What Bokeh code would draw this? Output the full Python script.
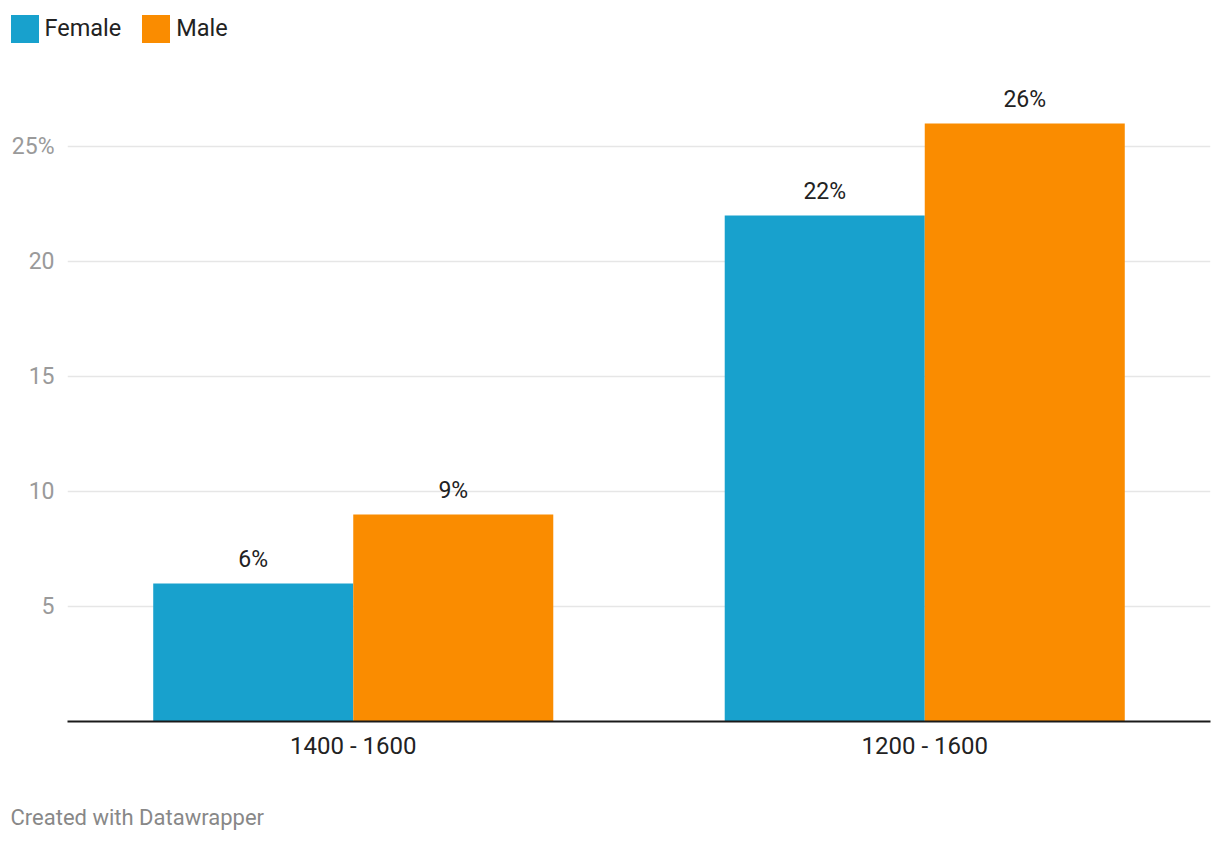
from bokeh.plotting import figure
from bokeh.layouts import column
from bokeh.models import (FactorRange, Range1d, FixedTicker, Legend, LegendItem,
                          Label, ColumnDataSource)
from bokeh.transform import dodge
from bokeh.core.properties import value
from bokeh.embed import file_html
from bokeh.resources import INLINE

categories = ["1400 - 1600", "1200 - 1600"]
female = [6, 22]
male = [9, 26]
series_names = ["Female", "Male"]
series_colors = ["#18a1cd", "#fa8c00"]
y_ticks = [5, 10, 15, 20, 25]
y_tick_labels = {25: "25%"}
footer_text = "Created with Datawrapper"

FONT = "Roboto"
W = 1220
TOP_H, MAIN_H, FOOT_H = 60, 730, 54
LEFT, RIGHT, BOTTOM = 67, 10, 69
PX_PER_UNIT = 23.0

src = ColumnDataSource(dict(
    cat=categories,
    female=female,
    male=male,
    female_lbl=[f"{v}%" for v in female],
    male_lbl=[f"{v}%" for v in male],
))


def bare_figure(h, x_range, y_range):
    f = figure(width=W, height=h, output_backend="svg", toolbar_location=None,
               x_range=x_range, y_range=y_range,
               x_axis_location=None, y_axis_location=None,
               min_border_left=0, min_border_right=0,
               min_border_top=0, min_border_bottom=0, frame_align=False)
    f.outline_line_color = None
    f.grid.visible = False
    f.background_fill_color = "white"
    f.border_fill_color = "white"
    return f


# ---- legend strip (hidden renderers; only their legend swatches show) ----
top = bare_figure(TOP_H, FactorRange(*categories), Range1d(0, 30))
dummy = []
for col, c in (("female", series_colors[0]), ("male", series_colors[1])):
    r = top.vbar(x="cat", top=col, width=0.1, source=src, fill_color=c, line_color=None)
    r.visible = False
    dummy.append(r)
legend = Legend(items=[LegendItem(label=n, renderers=[r])
                       for n, r in zip(series_names, dummy)],
                orientation="horizontal",
                location=(6.5, 14.5),
                glyph_width=35, glyph_height=35, label_height=35,
                label_standoff=3, spacing=17, padding=0, margin=0,
                label_text_font=FONT, label_text_font_size="23.5px",
                label_text_color="#222222", label_text_baseline="middle",
                border_line_color=None, background_fill_alpha=0,
                inactive_fill_alpha=0)
top.add_layout(legend, "center")

# ---- main chart ----
frame_h = MAIN_H - BOTTOM
p = figure(x_range=FactorRange(*categories, range_padding=0),
           y_range=Range1d(0, frame_h / PX_PER_UNIT),
           width=W, height=MAIN_H, output_backend="svg", toolbar_location=None,
           min_border_left=LEFT, min_border_right=RIGHT,
           min_border_top=0, min_border_bottom=BOTTOM, frame_align=False)
p.outline_line_color = None
p.background_fill_color = "white"
p.border_fill_color = "white"

p.xgrid.grid_line_color = None
p.ygrid.grid_line_color = "#e6e6e6"
p.ygrid.grid_line_width = 1.5
p.ygrid.ticker = FixedTicker(ticks=y_ticks)

for col, off, c in (("female", -0.175, series_colors[0]), ("male", 0.175, series_colors[1])):
    p.vbar(x=dodge("cat", off, range=p.x_range), top=col, width=0.35,
           source=src, fill_color=c, line_color=None)
    p.text(x=dodge("cat", off, range=p.x_range), y=col, text=col + "_lbl", source=src,
           text_align="center", text_baseline="alphabetic", y_offset=-24,
           text_font=value(FONT), text_font_size="23px", text_color="#222222")

p.xaxis.axis_line_color = "#1a1a1a"
p.xaxis.axis_line_width = 2
p.xaxis.major_tick_line_color = None
p.xaxis.minor_tick_line_color = None
p.xaxis.major_label_standoff = 4
p.xaxis.major_label_text_font = FONT
p.xaxis.major_label_text_font_size = "24px"
p.xaxis.major_label_text_color = "#222222"

p.yaxis.ticker = FixedTicker(ticks=y_ticks)
p.yaxis.major_label_overrides = y_tick_labels
p.yaxis.axis_line_color = None
p.yaxis.major_tick_line_color = None
p.yaxis.minor_tick_line_color = None
p.yaxis.major_label_standoff = 7
p.yaxis.major_label_text_font = FONT
p.yaxis.major_label_text_font_size = "23px"
p.yaxis.major_label_text_color = "#9a9a9a"

# ---- footer ----
foot = bare_figure(FOOT_H, Range1d(0, 1), Range1d(0, 1))
foot.add_layout(Label(x=10, y=27, x_units="screen", y_units="screen",
                      text=footer_text, text_font=FONT, text_font_size="22px",
                      text_color="#888888", text_baseline="alphabetic"))

layout = column(top, p, foot, spacing=0)
open("out.html", "w").write(file_html(layout, INLINE))
